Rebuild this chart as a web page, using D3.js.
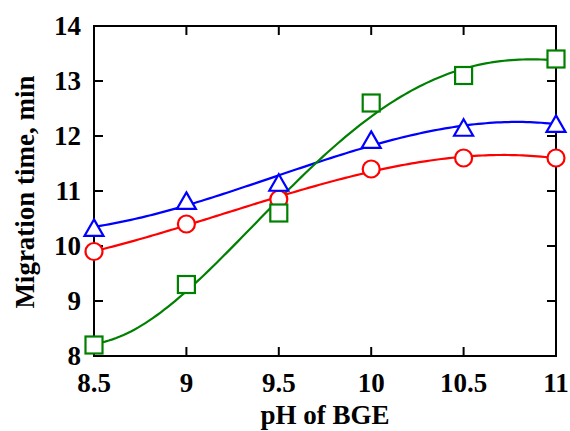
<!DOCTYPE html>
<html>
<head>
<meta charset="utf-8">
<script src="https://cdn.jsdelivr.net/npm/d3@7"></script>
<style>
  html, body { margin: 0; padding: 0; background: #fff; }
  svg { display: block; }
  text { font-family: "Liberation Serif", "Times New Roman", serif; font-weight: bold; fill: #000; }
</style>
</head>
<body>
<svg id="chart"></svg>
<script>
const phValues = [8.5, 9, 9.5, 10, 10.5, 11];
const circleSeries = [9.9, 10.4, 10.85, 11.4, 11.6, 11.6];
const triangleSeries = [10.33, 10.82, 11.15, 11.93, 12.15, 12.22];
const squareSeries = [8.2, 9.3, 10.6, 12.6, 13.1, 13.4];
const xTicks = [8.5, 9, 9.5, 10, 10.5, 11];
const yTicks = [8, 9, 10, 11, 12, 13, 14];

const W = 570, H = 431;
const margin = {top: 26, right: 14, bottom: 75, left: 94};

const svg = d3.select("#chart").attr("width", W).attr("height", H);

const x = d3.scaleLinear().domain([8.5, 11]).range([margin.left, W - margin.right]);
const y = d3.scaleLinear().domain([8, 14]).range([H - margin.bottom, margin.top]);

// least squares polynomial fit, the curves in the figure are smooth fits not joins
function polyFit(xs, ys, degree) {
  const x0 = d3.mean(xs);
  const n = degree + 1;
  const A = [], b = [];
  for (let i = 0; i < n; i += 1) {
    A.push(new Array(n).fill(0));
    b.push(0);
  }
  xs.forEach((xv, k) => {
    const t = xv - x0;
    for (let i = 0; i < n; i += 1) {
      for (let j = 0; j < n; j += 1) A[i][j] += Math.pow(t, i + j);
      b[i] += ys[k] * Math.pow(t, i);
    }
  });
  for (let i = 0; i < n; i += 1) {
    let p = i;
    for (let r = i + 1; r < n; r += 1) if (Math.abs(A[r][i]) > Math.abs(A[p][i])) p = r;
    [A[i], A[p]] = [A[p], A[i]];
    [b[i], b[p]] = [b[p], b[i]];
    for (let r = i + 1; r < n; r += 1) {
      const f = A[r][i] / A[i][i];
      for (let c = i; c < n; c += 1) A[r][c] -= f * A[i][c];
      b[r] -= f * b[i];
    }
  }
  const coef = new Array(n).fill(0);
  for (let i = n - 1; i >= 0; i -= 1) {
    let s = b[i];
    for (let c = i + 1; c < n; c += 1) s -= A[i][c] * coef[c];
    coef[i] = s / A[i][i];
  }
  return xv => coef.reduce((acc, c, i) => acc + c * Math.pow(xv - x0, i), 0);
}

const series = [
  {values: circleSeries, color: "#ff0000", shape: "circle", degree: 3},
  {values: triangleSeries, color: "#0000ff", shape: "triangle", degree: 3},
  {values: squareSeries, color: "#008000", shape: "square", degree: 4}
];

const line = d3.line().x(d => x(d[0])).y(d => y(d[1]));
const xs = d3.range(8.5, 11.0001, 0.02);

series.forEach(s => {
  const f = polyFit(phValues, s.values, s.degree);
  svg.append("path")
    .datum(xs.map(v => [v, f(v)]))
    .attr("d", line)
    .attr("fill", "none")
    .attr("stroke", s.color)
    .attr("stroke-width", 2.2);
});

// frame and inward ticks on all sides
const tickLen = 9;
const frame = svg.append("g").attr("stroke", "#000").attr("stroke-width", 2);
frame.append("rect")
  .attr("x", x(8.5)).attr("y", y(14))
  .attr("width", x(11) - x(8.5)).attr("height", y(8) - y(14))
  .attr("fill", "none");

xTicks.forEach(t => {
  frame.append("line").attr("x1", x(t)).attr("x2", x(t))
    .attr("y1", y(8)).attr("y2", y(8) - tickLen);
  frame.append("line").attr("x1", x(t)).attr("x2", x(t))
    .attr("y1", y(14)).attr("y2", y(14) + tickLen);
});
yTicks.forEach(t => {
  frame.append("line").attr("x1", x(8.5)).attr("x2", x(8.5) + tickLen)
    .attr("y1", y(t)).attr("y2", y(t));
  frame.append("line").attr("x1", x(11)).attr("x2", x(11) - tickLen)
    .attr("y1", y(t)).attr("y2", y(t));
});

svg.append("g").selectAll("text").data(xTicks).enter().append("text")
  .attr("x", d => x(d))
  .attr("y", y(8) + 36)
  .attr("text-anchor", "middle")
  .attr("font-size", 27)
  .text(d => String(d));

svg.append("g").selectAll("text").data(yTicks).enter().append("text")
  .attr("x", x(8.5) - 13)
  .attr("y", d => y(d) + 9)
  .attr("text-anchor", "end")
  .attr("font-size", 27)
  .text(d => String(d));

svg.append("text")
  .attr("x", 325)
  .attr("y", 424)
  .attr("text-anchor", "middle")
  .attr("font-size", 27)
  .text("pH of BGE");

svg.append("text")
  .attr("transform", `translate(34, 192) rotate(-90)`)
  .attr("text-anchor", "middle")
  .attr("font-size", 27)
  .text("Migration time, min");

// markers drawn over the curves with white fill
const markers = svg.append("g");
series.forEach(s => {
  const g = markers.append("g")
    .attr("fill", "#fff").attr("stroke", s.color).attr("stroke-width", 2.2);
  const pts = phValues.map((p, i) => [p, s.values[i]]);
  if (s.shape === "circle") {
    g.selectAll("circle").data(pts).enter().append("circle")
      .attr("cx", d => x(d[0])).attr("cy", d => y(d[1])).attr("r", 8.5);
  } else if (s.shape === "square") {
    g.selectAll("rect").data(pts).enter().append("rect")
      .attr("x", d => x(d[0]) - 8.5).attr("y", d => y(d[1]) - 8.5)
      .attr("width", 17).attr("height", 17);
  } else {
    g.selectAll("path").data(pts).enter().append("path")
      .attr("d", d => {
        const cx = x(d[0]), cy = y(d[1]);
        return `M${cx},${cy - 8.5}L${cx + 9.5},${cy + 8}L${cx - 9.5},${cy + 8}Z`;
      });
  }
});
</script>
</body>
</html>
